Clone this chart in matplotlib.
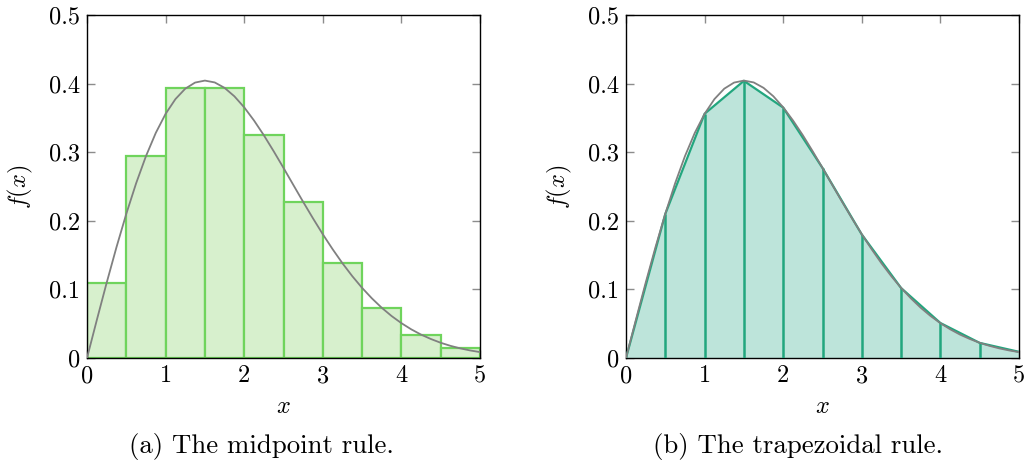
import matplotlib
matplotlib.use("Agg")
import matplotlib.pyplot as plt
from matplotlib.ticker import FuncFormatter

plt.rcParams['font.family'] = ['cmr10', 'DejaVu Serif']
plt.rcParams['mathtext.fontset'] = 'cm'
plt.rcParams['axes.formatter.use_mathtext'] = True

# curve samples
curve_x = [0, 0.125, 0.25, 0.375, 0.5, 0.625, 0.75, 0.875, 1.0, 1.125, 1.25, 1.375,
           1.5, 1.625, 1.75, 1.875, 2.0, 2.125, 2.25, 2.375, 2.5, 2.625, 2.75, 2.875,
           3.0, 3.125, 3.25, 3.375, 3.5, 3.625, 3.75, 3.875, 4.0, 4.125, 4.25, 4.375,
           4.5, 4.625, 4.75, 4.875, 5.0]
curve_y = [0, 0.0554, 0.1096, 0.1615, 0.2102, 0.2547, 0.2942, 0.3281, 0.3559, 0.3774,
           0.3926, 0.4015, 0.4044, 0.4017, 0.3938, 0.3815, 0.3654, 0.3462, 0.3247,
           0.3014, 0.2771, 0.2523, 0.2276, 0.2036, 0.1804, 0.1586, 0.1381, 0.1193,
           0.1022, 0.0869, 0.0732, 0.0612, 0.0508, 0.0418, 0.0341, 0.0277, 0.0222,
           0.0177, 0.0140, 0.0110, 0.0086]

# midpoint rule bars
bar_left = [0, 0.5, 1.0, 1.5, 2.0, 2.5, 3.0, 3.5, 4.0, 4.5]
bar_height = [0.110, 0.294, 0.393, 0.394, 0.325, 0.228, 0.138, 0.073, 0.034, 0.014]

# trapezoidal nodes
trap_x = [0, 0.5, 1.0, 1.5, 2.0, 2.5, 3.0, 3.5, 4.0, 4.5, 5.0]
trap_y = [0, 0.210, 0.356, 0.404, 0.365, 0.277, 0.180, 0.102, 0.051, 0.022, 0.009]

xticks = [0, 1, 2, 3, 4, 5]
yticks = [0, 0.1, 0.2, 0.3, 0.4, 0.5]

fig = plt.figure(figsize=(10.24, 4.63), dpi=100)
ax1 = fig.add_axes([87/1024, 1-358/463, 393/1024, 343/463])
ax2 = fig.add_axes([626/1024, 1-358/463, 393/1024, 343/463])

fmt = FuncFormatter(lambda v, p: ('%g' % round(v, 3)))
FS = 17.5

def style(ax):
    ax.set_xlim(0, 5)
    ax.set_ylim(0, 0.5)
    ax.set_xticks(xticks)
    ax.set_yticks(yticks)
    ax.xaxis.set_major_formatter(fmt)
    ax.yaxis.set_major_formatter(fmt)
    ax.tick_params(direction='in', top=True, right=True, length=6, width=1.0,
                   color='#8c8c8c', labelsize=FS, pad=5)
    for s in ax.spines.values():
        s.set_color('black')
        s.set_linewidth(1.0)
    ax.set_xlabel('$x$', fontsize=FS, labelpad=6)
    ax.set_ylabel('$f(x)$', fontsize=FS, labelpad=10)

# (a)
ax1.bar(bar_left, bar_height, width=0.5, align='edge', color='#d7f0cd',
        edgecolor='#6fd45c', linewidth=1.6, zorder=2)
ax1.plot(curve_x, curve_y, color='#808080', lw=1.3, zorder=3)
style(ax1)

# (b)
ax2.fill_between(trap_x, trap_y, 0, color='#bde4da', lw=0, zorder=2)
ax2.plot(trap_x, trap_y, color='#22a67e', lw=1.6, zorder=3)
ax2.vlines(trap_x[1:-1], 0, trap_y[1:-1], color='#22a67e', lw=1.8, zorder=3)
ax2.plot(curve_x, curve_y, color='#808080', lw=1.3, zorder=4)
style(ax2)

fig.text(261/1024, 1-447/463, '(a) The midpoint rule.', ha='center', va='center', fontsize=19.3)
fig.text(798/1024, 1-447/463, '(b) The trapezoidal rule.', ha='center', va='center', fontsize=19.3)

fig.savefig('out.png', dpi=100)
